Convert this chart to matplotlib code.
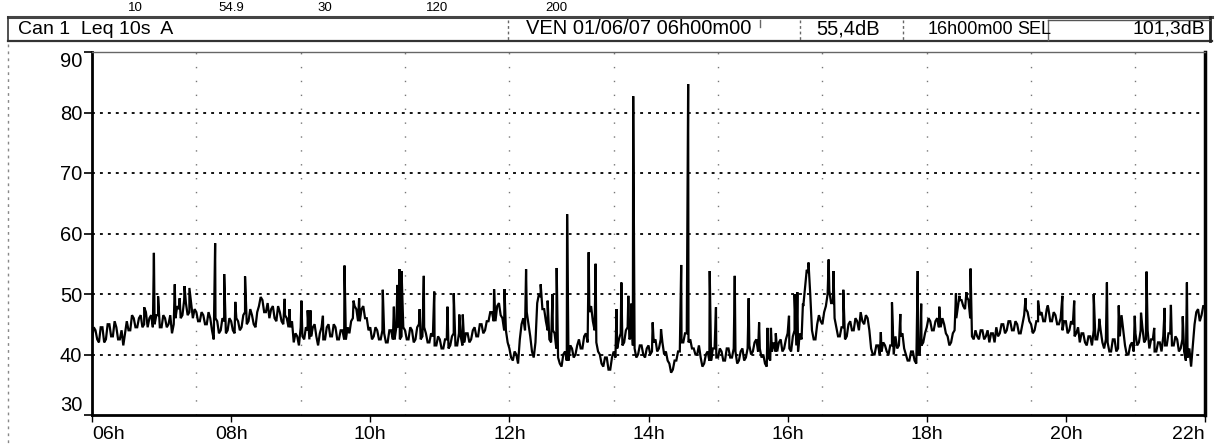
import numpy as np
import matplotlib
matplotlib.use("Agg")
import matplotlib.pyplot as plt
from matplotlib.lines import Line2D

plt.rcParams['font.family'] = ['Liberation Sans', 'DejaVu Sans']

# ---- Leq 10s, dB(A), every 0.05 h (3 min) ----
T_START = 6.0
T_STEP = 0.05

leq_06h = [42.5, 44, 42, 44.5, 42.5, 45, 43, 44.5, 42.5, 41.5,
           45.5, 44, 46, 44.5, 46.5, 45, 44.5, 46.5, 45, 46.5]
leq_07h = [44.5, 46, 45, 43.5, 46, 47.5, 46.5, 48.5, 47, 46,
           47, 45.5, 46.5, 45, 46, 42.5, 45.5, 44, 45.5, 44]
leq_08h = [45.5, 43.5, 45.5, 44.5, 47, 45.5, 46.5, 44.5, 48, 49,
           47, 46, 48, 45.5, 47, 45, 46, 44.5, 42, 43]
leq_09h = [44.5, 42.5, 44, 43, 45, 41.5, 44.5, 42.5, 45, 43,
           44.5, 42.5, 44, 42.5, 43.5, 46, 47.5, 45.5, 48, 46]
leq_10h = [44.5, 43, 44, 42.5, 43.5, 42, 44, 42.5, 44.5, 43,
           44, 42.5, 44, 42.5, 45, 43, 43.5, 42, 43, 41.5]
leq_11h = [42.5, 41, 42.5, 41.5, 43.5, 41.5, 43, 42, 43.5, 42.5,
           44.5, 43, 45, 44, 45.5, 47, 45.5, 48.5, 46, 44]
leq_12h = [41, 39, 40, 42.5, 46, 47, 43, 39.5, 48.5, 49.5,
           47.5, 44, 42, 43.5, 39.5, 38, 40.5, 39, 41, 40]
leq_13h = [42.5, 41, 43.5, 47, 45.5, 42, 40, 38, 39.5, 37.5,
           40.5, 41, 43.5, 42, 44.5, 43, 41, 40, 41.5, 39.5]
leq_14h = [41.5, 40.5, 42.5, 41, 42, 40.5, 38.5, 37.5, 39, 40.5,
           42, 43.5, 42.5, 41, 40, 39.5, 38.5, 40.5, 39, 41]
leq_15h = [39.5, 40.5, 39, 41, 39.5, 40.5, 39, 41, 39.5, 41.5,
           40.5, 42.5, 41, 40, 38, 39, 42, 40.5, 42.5, 41]
leq_16h = [43.5, 40.5, 44, 40.5, 42.5, 51, 53.5, 44, 42.5, 46.5,
           45, 48, 50.5, 48.5, 44.5, 43, 44.5, 43, 45.5, 44]
leq_17h = [45.5, 47, 45, 46, 41, 40, 41.5, 40.5, 41.5, 40,
           41.5, 43, 41.5, 43.5, 40, 39, 40.5, 38.5, 40, 42]
leq_18h = [44.5, 45.5, 44, 46, 44.5, 45, 43, 42, 44, 48,
           49, 47.5, 49, 43, 44, 42.5, 44, 43, 42, 43.5]
leq_19h = [44.5, 43.5, 45, 44, 45.5, 44, 45, 43.5, 46.5, 47,
           45, 44, 45.5, 47, 45.5, 47.5, 45.5, 46.5, 45, 44]
leq_20h = [45.5, 44, 45, 43.5, 42, 43.5, 41.5, 43, 44, 42.5,
           44, 41, 42, 40.5, 42.5, 41, 46.5, 41.5, 40, 42]
leq_21h = [43.5, 42, 44.5, 42.5, 41, 42.5, 40.5, 42, 43, 41.5,
           43.5, 41.5, 42.5, 41, 40.5, 39.5, 38, 45, 47.5, 46.5]
leq_22h = [48]

# readings half-way between the samples above (other edge of the band)
mid_06h = [44.5, 42.5, 44.5, 42, 45, 43, 45.5, 42.5, 44, 43.5,
           44, 46.5, 44.5, 46, 44.5, 47, 46, 44.5, 46.5, 44.5]
mid_07h = [46.5, 44.5, 46.5, 45, 48, 46, 49, 46.5, 48.5, 47.5,
           45.5, 47, 45, 47, 44, 46, 43.5, 46, 43.5, 46]
mid_08h = [44, 46, 44, 46.5, 45, 47.5, 45, 47, 49.5, 47,
           48.5, 47.5, 46, 48, 45.5, 46.5, 44.5, 45.5, 43.5, 41.5]
mid_09h = [43, 44.5, 42.5, 44.5, 43, 43.5, 42.5, 44.5, 43, 45,
           42.5, 44, 42.5, 44.5, 45.5, 48, 45.5, 47.5, 46, 44]
mid_10h = [42.5, 44.5, 42.5, 44, 42, 44, 42.5, 44.5, 42.5, 44.5,
           42.5, 44.5, 42, 44.5, 42.5, 44.5, 42, 43.5, 41.5, 43]
mid_11h = [41, 42.5, 41, 43, 41.5, 43.5, 41.5, 43.5, 42, 44,
           43, 45, 43.5, 45.5, 47, 45.5, 48, 46.5, 44, 42]
mid_12h = [39.5, 40.5, 38.5, 45, 44, 45, 40.5, 42, 50, 47.5,
           45.5, 42.5, 44, 41, 38.5, 40, 39, 41.5, 39.5, 41.5]
mid_13h = [41, 43, 42, 48, 44, 40.5, 38.5, 39.5, 37.5, 39.5,
           39.5, 42.5, 41.5, 44, 42.5, 41.5, 39.5, 41.5, 40, 41]
mid_14h = [40, 42, 40.5, 42.5, 40, 39, 37, 39, 40.5, 42,
           43.5, 42, 41, 40, 41.5, 38, 40, 39, 41, 39.5]
mid_15h = [41, 39, 41, 39.5, 41, 38.5, 40.5, 39, 41, 40,
           42, 40.5, 39.5, 38.5, 39.5, 40.5, 40.5, 42, 40.5, 42.5]
mid_16h = [41, 43, 41.5, 43.5, 48, 54, 50, 42.5, 45, 45.5,
           47, 50, 48.5, 46, 43, 44.5, 42.5, 45, 44, 46]
mid_17h = [44, 45.5, 46.5, 44, 40, 41.5, 40, 42, 40.5, 41.5,
           40, 41, 43, 41, 39, 40.5, 39, 40, 41.5, 43.5]
mid_18h = [46, 44, 45.5, 44.5, 46, 43.5, 41.5, 43.5, 46, 49,
           48, 49.5, 46, 42.5, 43, 44, 42.5, 44, 43.5, 42]
mid_19h = [43, 45, 43.5, 45.5, 44, 45.5, 43.5, 45, 47.5, 45.5,
           43.5, 45.5, 46.5, 45.5, 47.5, 45.5, 47, 45, 46, 45.5]
mid_20h = [43.5, 45.5, 43, 44.5, 43.5, 42, 43, 41.5, 42.5, 44.5,
           42, 42.5, 40.5, 42.5, 40.5, 43, 44, 40, 41.5, 40.5]
mid_21h = [41.5, 44, 42, 44, 42.5, 40.5, 42, 40.5, 41.5, 43.5,
           41.5, 43, 40.5, 42.5, 39, 41, 41.5, 47, 45.5, 48]

# short events (peaks) between the regular samples
spike_hours = [6.75, 6.89, 6.95, 7.19, 7.26, 7.33, 7.40, 7.77, 7.90, 8.06, 8.20,
               8.77, 8.84, 9.01, 9.10, 9.14, 9.32, 9.63, 9.76, 9.84, 10.18, 10.34,
               10.39, 10.42, 10.45, 10.71, 10.77, 10.92, 11.11, 11.20, 11.28, 11.33,
               11.78, 11.93, 12.24, 12.45, 12.55, 12.62, 12.68, 12.83, 13.14, 13.24,
               13.54, 13.61, 13.71, 13.75, 13.78, 14.06, 14.18, 14.47, 14.57, 14.88,
               14.97, 15.24, 15.44, 15.59, 15.71, 15.76, 15.83, 16.02, 16.10, 16.14,
               16.22, 16.30, 16.59, 16.66, 16.80, 17.34, 17.50, 17.62, 17.87, 17.92,
               18.18, 18.42, 18.47, 18.57, 18.63, 19.42, 19.60, 19.74, 19.95, 20.12,
               20.40, 20.48, 20.59, 20.76, 20.99, 21.08, 21.16, 21.27, 21.42, 21.51,
               21.68, 21.74]
spike_levels = [47.8, 56.8, 49.6, 51.6, 49.3, 51.3, 51.0, 58.4, 53.3, 48.7, 52.9,
                49.2, 47.5, 48.9, 47.3, 47.3, 46.4, 54.7, 48.9, 49.3, 50.7, 47.9,
                51.5, 54.1, 53.8, 47.5, 53.0, 50.4, 47.9, 50.1, 46.6, 46.6,
                50.8, 50.8, 54.1, 51.6, 48.9, 50.0, 54.3, 63.2, 56.9, 55.0,
                47.5, 51.9, 49.7, 48.4, 82.7, 45.3, 44.2, 54.8, 84.7, 53.8,
                47.8, 53.0, 49.3, 45.3, 44.4, 44.4, 43.5, 46.4, 50.0, 50.3,
                48.4, 55.2, 55.7, 53.8, 50.7, 43.7, 48.6, 46.7, 53.8, 48.4,
                47.9, 50.1, 49.7, 50.3, 54.2, 49.3, 48.9, 48.1, 49.7, 48.9,
                50.0, 45.9, 51.9, 48.1, 46.4, 46.9, 53.7, 44.4, 47.7, 48.2,
                46.3, 51.9]

y_ticks = [30, 40, 50, 60, 70, 80, 90]
x_ticks = [6, 8, 10, 12, 14, 16, 18, 20, 22]
x_labels = ["06h", "08h", "10h", "12h", "14h", "16h", "18h", "20h", "22h"]
v_grid = [7.5, 9, 10.5, 12, 13.5, 15, 16.5, 18, 19.5, 21]

header_channel = "Can 1  Leq 10s  A"
header_start = "VEN 01/06/07 06h00m00"
header_leq = "55,4dB"
header_duration = "16h00m00"
header_sel = "101,3dB"
top_cut = [("10", 135), ("54.9", 231), ("30", 325), ("120", 437), ("200", 556)]

# ---- build the trace ----
base_levels = (leq_06h + leq_07h + leq_08h + leq_09h + leq_10h + leq_11h + leq_12h
               + leq_13h + leq_14h + leq_15h + leq_16h + leq_17h + leq_18h + leq_19h
               + leq_20h + leq_21h + leq_22h)
mid_levels = (mid_06h + mid_07h + mid_08h + mid_09h + mid_10h + mid_11h + mid_12h
              + mid_13h + mid_14h + mid_15h + mid_16h + mid_17h + mid_18h + mid_19h
              + mid_20h + mid_21h)
base_hours = T_START + T_STEP * np.arange(len(base_levels))
mid_hours = T_START + T_STEP / 2 + T_STEP * np.arange(len(mid_levels))
hours = np.concatenate([base_hours, mid_hours, spike_hours])
levels = np.concatenate([base_levels, mid_levels, spike_levels])
order = np.argsort(hours, kind="stable")
hours, levels = hours[order], levels[order]

# ---- figure ----
W, H = 1215, 445
fig = plt.figure(figsize=(W / 100, H / 100), dpi=100)


def fx(x):
    return x / W


def fy(y):
    return 1 - y / H


ax = fig.add_axes([fx(92), fy(415), fx(1205) - fx(92), fy(52) - fy(415)])
ax.plot(hours, levels, color="black", lw=1.6, solid_joinstyle="miter")

ax.set_xlim(6, 22)
ax.set_ylim(30, 90)

for lvl in [40, 50, 60, 70, 80]:
    ax.axhline(lvl, color="black", lw=1.3, ls=(0, (1.6, 2.8)), zorder=0)
for h in v_grid:
    ax.axvline(h, color="#777777", lw=1.0, ls=(0, (1, 9)), zorder=0)

ax.set_yticks(y_ticks)
ax.set_yticklabels([str(v) for v in y_ticks], fontsize=14.5)
ax.set_xticks(x_ticks)
ax.set_xticklabels(x_labels, fontsize=14)
ax.tick_params(axis="y", length=6, width=1.2, pad=1, direction="out")
ax.tick_params(axis="x", length=5, width=1.0, pad=3, direction="out")
ylabs = ax.get_yticklabels()
ylabs[0].set_va("bottom")
ylabs[-1].set_va("top")
xlabs = ax.get_xticklabels()
xlabs[0].set_ha("left")
xlabs[-1].set_ha("right")

ax.spines["left"].set_linewidth(2.0)
ax.spines["bottom"].set_linewidth(2.0)
ax.spines["right"].set_linewidth(2.5)
ax.spines["top"].set_linewidth(1.0)
ax.spines["top"].set_color("#666666")

# ---- header bar ----
def hline(y, x0, x1, **kw):
    fig.add_artist(Line2D([fx(x0), fx(x1)], [fy(y), fy(y)], **kw))


def vline(x, y0, y1, **kw):
    fig.add_artist(Line2D([fx(x), fx(x)], [fy(y0), fy(y1)], **kw))


hline(17, 8, 1212, color="#444444", lw=2.2)
hline(41, 8, 1212, color="#333333", lw=1.6)
vline(8, 17, 41, color="#333333", lw=1.2)
vline(8, 44, 445, color="#888888", lw=1.0, ls=(0, (2, 3)))
vline(508, 20, 40, color="#666666", lw=1.0, ls=(0, (2, 2)))
vline(760, 20, 27, color="#666666", lw=1.0)
vline(800, 20, 40, color="#666666", lw=1.0, ls=(0, (2, 2)))
vline(903, 20, 40, color="#666666", lw=1.0, ls=(0, (2, 2)))
vline(1048, 20, 40, color="#666666", lw=1.0)
vline(1210, 17, 41, color="#222222", lw=2.0)
hline(20, 1048, 1210, color="#555555", lw=1.0)

fig.text(fx(18), fy(29), header_channel, fontsize=14, va="center", ha="left")
fig.text(fx(751), fy(29), header_start, fontsize=14.5, va="center", ha="right")
fig.text(fx(848), fy(29), header_leq, fontsize=14.5, va="center", ha="center")
fig.text(fx(1013), fy(29), header_duration, fontsize=13, va="center", ha="right")
fig.text(fx(1017), fy(29), "SEL", fontsize=13, va="center", ha="left")
fig.text(fx(1205), fy(29), header_sel, fontsize=14, va="center", ha="right")

for txt, x in top_cut:
    fig.text(fx(x), fy(8), txt, fontsize=9.5, va="center", ha="center")

fig.savefig("out.png", dpi=100)
